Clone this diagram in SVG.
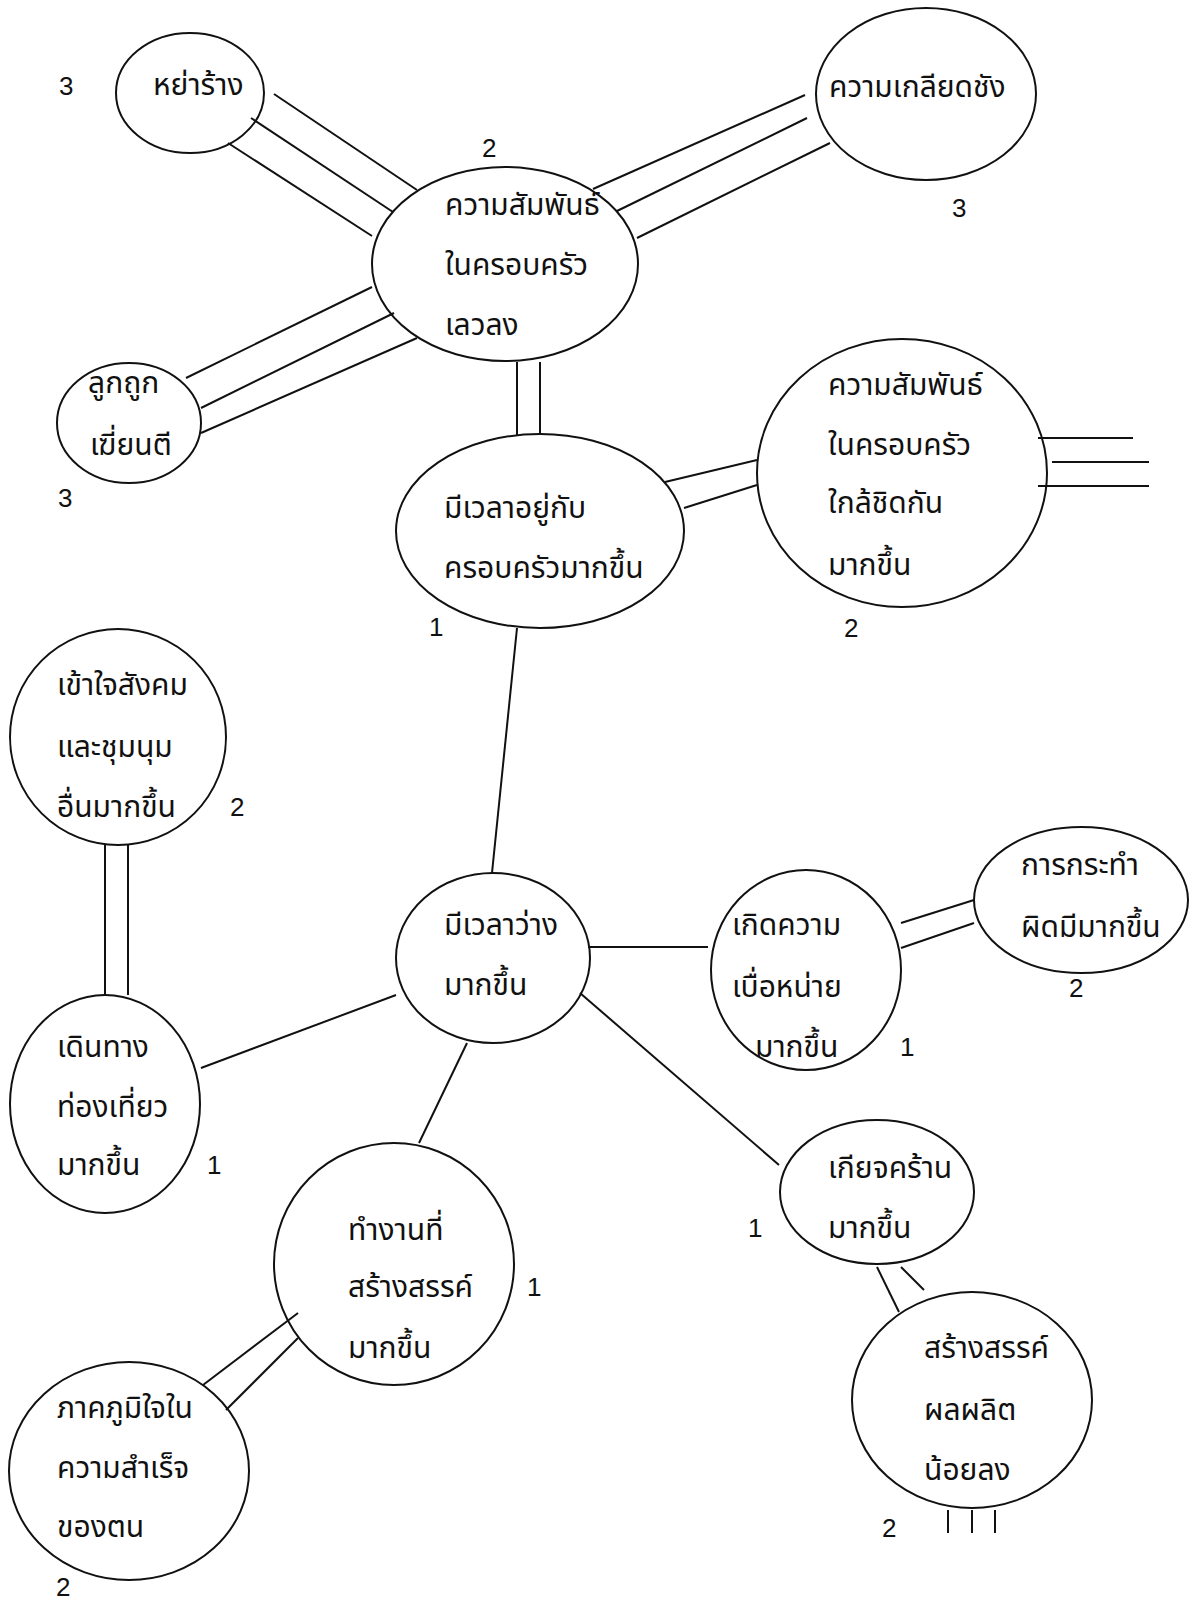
<svg xmlns="http://www.w3.org/2000/svg" width="1197" height="1599" viewBox="0 0 1197 1599">
<style>
.n{fill:none;stroke:#111;stroke-width:2}
.c line{stroke:#111;stroke-width:2}
.t{font-family:"Noto Sans Thai","Noto Sans","DejaVu Sans",sans-serif;font-size:30px;fill:#111}
.num{font-family:"Liberation Sans",Arial,sans-serif;font-size:26px;fill:#111}
</style>
<rect width="1197" height="1599" fill="#fff"/>
<g class="c" id="connectors">
<line x1="274" y1="94" x2="417" y2="190"/>
<line x1="251" y1="118" x2="393" y2="212"/>
<line x1="228" y1="143" x2="372" y2="236"/>
<line x1="805" y1="95" x2="593" y2="189"/>
<line x1="807" y1="118" x2="617" y2="211"/>
<line x1="830" y1="143" x2="637" y2="238"/>
<line x1="372" y1="287" x2="186" y2="378"/>
<line x1="394" y1="313" x2="201" y2="408"/>
<line x1="417" y1="338" x2="201" y2="433"/>
<line x1="517" y1="362" x2="517" y2="435"/>
<line x1="540" y1="362" x2="540" y2="435"/>
<line x1="665" y1="482" x2="757" y2="460"/>
<line x1="684" y1="508" x2="757" y2="485"/>
<line x1="1038" y1="438" x2="1133" y2="438"/>
<line x1="1052" y1="462" x2="1149" y2="462"/>
<line x1="1038" y1="486" x2="1149" y2="486"/>
<line x1="517" y1="628" x2="492" y2="873"/>
<line x1="105" y1="845" x2="105" y2="995"/>
<line x1="128" y1="845" x2="128" y2="995"/>
<line x1="201" y1="1068" x2="396" y2="995"/>
<line x1="588" y1="947" x2="708" y2="947"/>
<line x1="901" y1="923" x2="974" y2="900"/>
<line x1="901" y1="948" x2="974" y2="923"/>
<line x1="580" y1="993" x2="779" y2="1165"/>
<line x1="467" y1="1043" x2="419" y2="1143"/>
<line x1="298" y1="1313" x2="203" y2="1385"/>
<line x1="298" y1="1338" x2="226" y2="1410"/>
<line x1="877" y1="1267" x2="899" y2="1312"/>
<line x1="901" y1="1267" x2="924" y2="1290"/>
<line x1="948" y1="1510" x2="948" y2="1533"/>
<line x1="972" y1="1510" x2="972" y2="1533"/>
<line x1="995" y1="1510" x2="995" y2="1533"/>
</g>
<g id="n-divorce"><ellipse class="n" cx="190" cy="93" rx="74" ry="60"/><text class="t" x="153" y="95">หย่าร้าง</text></g>
<g id="n-hatred"><ellipse class="n" cx="926" cy="94" rx="110" ry="86"/><text class="t" x="829" y="97">ความเกลียดชัง</text></g>
<g id="n-worse"><ellipse class="n" cx="505" cy="264" rx="133" ry="97"/><text class="t" x="445" y="215">ความสัมพันธ์</text><text class="t" x="445" y="275">ในครอบครัว</text><text class="t" x="445" y="335">เลวลง</text></g>
<g id="n-beaten"><ellipse class="n" cx="129" cy="423" rx="72" ry="60"/><text class="t" x="88" y="393">ลูกถูก</text><text class="t" x="90" y="455">เฆี่ยนตี</text></g>
<g id="n-family"><ellipse class="n" cx="540" cy="531" rx="144" ry="97"/><text class="t" x="444" y="518">มีเวลาอยู่กับ</text><text class="t" x="444" y="578">ครอบครัวมากขึ้น</text></g>
<g id="n-closer"><ellipse class="n" cx="902" cy="473" rx="145" ry="134"/><text class="t" x="828" y="395">ความสัมพันธ์</text><text class="t" x="828" y="455">ในครอบครัว</text><text class="t" x="828" y="513">ใกล้ชิดกัน</text><text class="t" x="828" y="575">มากขึ้น</text></g>
<g id="n-society"><ellipse class="n" cx="118" cy="737" rx="108" ry="108"/><text class="t" x="57" y="695">เข้าใจสังคม</text><text class="t" x="57" y="757">และชุมนุม</text><text class="t" x="57" y="817">อื่นมากขึ้น</text></g>
<g id="n-free"><ellipse class="n" cx="493" cy="958" rx="97" ry="85"/><text class="t" x="444" y="935">มีเวลาว่าง</text><text class="t" x="444" y="995">มากขึ้น</text></g>
<g id="n-bored"><ellipse class="n" cx="806" cy="970" rx="95" ry="100"/><text class="t" x="732" y="935">เกิดความ</text><text class="t" x="732" y="997">เบื่อหน่าย</text><text class="t" x="755" y="1057">มากขึ้น</text></g>
<g id="n-wrong"><ellipse class="n" cx="1081" cy="900" rx="107" ry="73"/><text class="t" x="1021" y="875">การกระทำ</text><text class="t" x="1021" y="937">ผิดมีมากขึ้น</text></g>
<g id="n-travel"><ellipse class="n" cx="105" cy="1104" rx="95" ry="109"/><text class="t" x="57" y="1057">เดินทาง</text><text class="t" x="57" y="1117">ท่องเที่ยว</text><text class="t" x="57" y="1175">มากขึ้น</text></g>
<g id="n-lazy"><ellipse class="n" cx="877" cy="1192" rx="97" ry="72"/><text class="t" x="828" y="1178">เกียจคร้าน</text><text class="t" x="828" y="1238">มากขึ้น</text></g>
<g id="n-work"><ellipse class="n" cx="394" cy="1264" rx="120" ry="121"/><text class="t" x="348" y="1240">ทำงานที่</text><text class="t" x="348" y="1297">สร้างสรรค์</text><text class="t" x="348" y="1358">มากขึ้น</text></g>
<g id="n-pride"><ellipse class="n" cx="129" cy="1471" rx="120" ry="109"/><text class="t" x="57" y="1418">ภาคภูมิใจใน</text><text class="t" x="57" y="1478">ความสำเร็จ</text><text class="t" x="57" y="1537">ของตน</text></g>
<g id="n-output"><ellipse class="n" cx="972" cy="1400" rx="120" ry="108"/><text class="t" x="924" y="1358">สร้างสรรค์</text><text class="t" x="924" y="1420">ผลผลิต</text><text class="t" x="924" y="1480">น้อยลง</text></g>
<g id="labels">
<text class="num" x="59" y="95">3</text>
<text class="num" x="482" y="157">2</text>
<text class="num" x="952" y="217">3</text>
<text class="num" x="58" y="507">3</text>
<text class="num" x="429" y="636">1</text>
<text class="num" x="844" y="637">2</text>
<text class="num" x="230" y="816">2</text>
<text class="num" x="1069" y="997">2</text>
<text class="num" x="900" y="1056">1</text>
<text class="num" x="207" y="1174">1</text>
<text class="num" x="748" y="1237">1</text>
<text class="num" x="527" y="1296">1</text>
<text class="num" x="882" y="1537">2</text>
<text class="num" x="56" y="1596">2</text>
</g>
</svg>
